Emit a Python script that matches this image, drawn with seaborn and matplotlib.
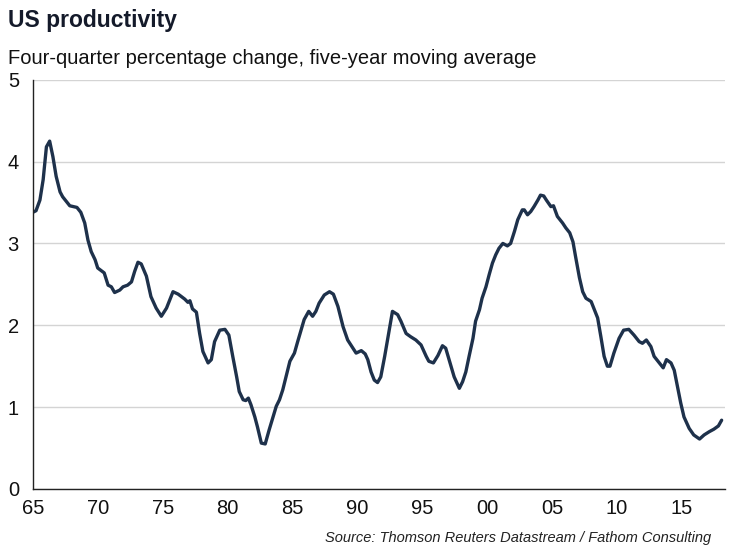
import matplotlib
matplotlib.use("Agg")
import matplotlib.pyplot as plt
import matplotlib.ticker as mticker
import seaborn as sns
import pandas as pd

sns.set_theme(style="white")
plt.rcParams['font.family'] = ['Liberation Sans', 'DejaVu Sans']

# five-year moving average of four-quarter productivity growth
years = [1965.0, 1965.25, 1965.55, 1965.8, 1966.05, 1966.3, 1966.55, 1966.8, 1967.1, 1967.3,
         1967.6, 1967.85, 1968.4, 1968.7, 1969.0, 1969.25, 1969.5, 1969.8, 1970.0, 1970.5,
         1970.8, 1971.05, 1971.3, 1971.7, 1971.95, 1972.3, 1972.6, 1972.85, 1973.1, 1973.35,
         1973.75, 1974.1, 1974.5, 1974.9, 1975.3, 1975.8, 1976.2, 1976.7, 1976.95, 1977.1,
         1977.3, 1977.6, 1977.85, 1978.1, 1978.5, 1978.75, 1979.0, 1979.4, 1979.8, 1980.1,
         1980.4, 1980.7, 1980.9, 1981.2, 1981.4, 1981.6, 1981.8, 1982.1, 1982.3, 1982.6,
         1982.9, 1983.2, 1983.5, 1983.75, 1984.0, 1984.25, 1984.5, 1984.8, 1985.15, 1985.4,
         1985.7, 1985.9, 1986.25, 1986.55, 1986.8, 1987.05, 1987.45, 1987.85, 1988.15, 1988.5,
         1988.9, 1989.25, 1989.65, 1989.9, 1990.3, 1990.6, 1990.8, 1991.05, 1991.3, 1991.55,
         1991.8, 1992.1, 1992.45, 1992.7, 1993.1, 1993.35, 1993.75, 1994.1, 1994.5, 1994.9,
         1995.3, 1995.5, 1995.85, 1996.2, 1996.55, 1996.8, 1997.1, 1997.45, 1997.85, 1998.1,
         1998.35, 1998.6, 1998.9, 1999.1, 1999.4, 1999.6, 1999.9, 2000.15, 2000.4, 2000.65,
         2000.9, 2001.2, 2001.55, 2001.8, 2002.1, 2002.35, 2002.7, 2002.85, 2003.1, 2003.35,
         2003.6, 2003.9, 2004.1, 2004.35, 2004.55, 2004.9, 2005.1, 2005.4, 2005.8, 2006.05,
         2006.35, 2006.6, 2006.8, 2007.1, 2007.35, 2007.6, 2008.0, 2008.2, 2008.5, 2008.75,
         2009.0, 2009.25, 2009.45, 2009.75, 2010.15, 2010.5, 2010.9, 2011.3, 2011.7, 2011.95,
         2012.25, 2012.6, 2012.85, 2013.25, 2013.55, 2013.8, 2014.15, 2014.4, 2014.65, 2014.9,
         2015.15, 2015.55, 2015.9, 2016.35, 2016.7, 2017.1, 2017.45, 2017.8, 2018.05]
productivity = [3.38, 3.40, 3.53, 3.78, 4.18, 4.25, 4.06, 3.82, 3.63, 3.57,
                3.51, 3.46, 3.44, 3.38, 3.25, 3.04, 2.90, 2.80, 2.70, 2.64,
                2.49, 2.47, 2.40, 2.43, 2.47, 2.49, 2.53, 2.66, 2.77, 2.75,
                2.60, 2.35, 2.21, 2.11, 2.21, 2.41, 2.38, 2.32, 2.28, 2.30,
                2.20, 2.16, 1.90, 1.68, 1.54, 1.58, 1.80, 1.94, 1.95, 1.88,
                1.62, 1.37, 1.19, 1.09, 1.08, 1.11, 1.03, 0.88, 0.76, 0.56,
                0.55, 0.72, 0.88, 1.01, 1.09, 1.21, 1.37, 1.56, 1.66, 1.80,
                1.96, 2.07, 2.17, 2.11, 2.17, 2.27, 2.37, 2.41, 2.38, 2.23,
                1.98, 1.82, 1.72, 1.66, 1.69, 1.65, 1.58, 1.43, 1.33, 1.30,
                1.37, 1.62, 1.94, 2.17, 2.13, 2.05, 1.90, 1.86, 1.82, 1.76,
                1.62, 1.56, 1.54, 1.63, 1.75, 1.72, 1.56, 1.37, 1.23, 1.31,
                1.43, 1.62, 1.84, 2.05, 2.19, 2.33, 2.47, 2.62, 2.76, 2.86,
                2.94, 3.00, 2.97, 3.00, 3.15, 3.29, 3.41, 3.41, 3.35, 3.39,
                3.45, 3.53, 3.59, 3.58, 3.53, 3.45, 3.46, 3.33, 3.25, 3.19,
                3.13, 3.02, 2.84, 2.58, 2.41, 2.33, 2.29, 2.21, 2.09, 1.86,
                1.62, 1.50, 1.50, 1.66, 1.84, 1.94, 1.95, 1.88, 1.80, 1.78,
                1.82, 1.74, 1.62, 1.54, 1.48, 1.58, 1.54, 1.45, 1.25, 1.05,
                0.88, 0.74, 0.66, 0.61, 0.66, 0.70, 0.73, 0.77, 0.84]

df = pd.DataFrame({'Yil': years, 'Verimlilik': productivity})

fig = plt.figure(figsize=(7.45, 5.5), dpi=100)
ax = fig.add_axes([0.044, 0.111, 0.929, 0.744])

sns.lineplot(data=df, x='Yil', y='Verimlilik', color='#1e314b', linewidth=2.4, ax=ax)

ax.set_xlim(1965, 2018.3)
ax.set_ylim(0, 5)
ax.set_xlabel("")
ax.set_ylabel("")

# eksen ticklari: yillik minor, 5 yillik major
ax.xaxis.set_major_locator(mticker.MultipleLocator(5))
ax.xaxis.set_minor_locator(mticker.MultipleLocator(1))
ax.xaxis.set_major_formatter(mticker.FuncFormatter(lambda v, p: f"{int(round(v)) % 100:02d}"))
ax.yaxis.set_major_locator(mticker.MultipleLocator(1))
ax.yaxis.set_minor_locator(mticker.MultipleLocator(0.2))

ax.tick_params(axis='both', which='major', direction='out', length=4, width=1,
               color='#222222', labelsize=14.5, labelcolor='#111111')
ax.tick_params(axis='both', which='minor', direction='out', length=2.5, width=0.8, color='#222222')
ax.tick_params(axis='x', which='major', pad=3)
ax.tick_params(axis='y', which='major', pad=6)

ax.yaxis.grid(True, color='#d4d4d4', linewidth=1)
ax.xaxis.grid(False)
for s in ['top', 'right']:
    ax.spines[s].set_visible(False)
for s in ['left', 'bottom']:
    ax.spines[s].set_color('#222222')
    ax.spines[s].set_linewidth(1)

fig.text(0.011, 0.962, "US productivity", fontsize=16.5, fontweight='bold',
         color='#141a2a', va='center', ha='left')
fig.text(0.011, 0.893, "Four-quarter percentage change, five-year moving average",
         fontsize=14.5, color='#111111', va='center', ha='left')
fig.text(0.955, 0.022, "Source: Thomson Reuters Datastream / Fathom Consulting",
         fontsize=10.5, style='italic', color='#222222', va='center', ha='right')

fig.savefig("out.png", dpi=100, facecolor='white')
